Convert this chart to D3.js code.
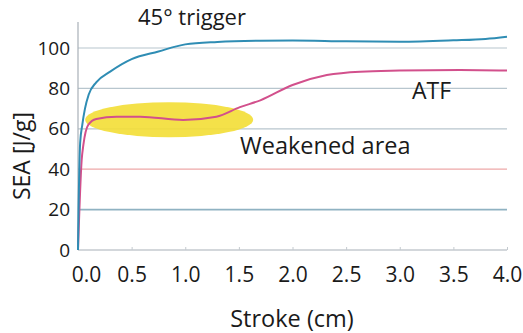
<!DOCTYPE html>
<html>
<head>
<meta charset="utf-8">
<script src="https://cdn.jsdelivr.net/npm/d3@7"></script>
<style>
  body { margin: 0; background: #fff; }
  text { font-family: "Open Sans", "Noto Sans", sans-serif; fill: #1a1a1a; }
</style>
</head>
<body>
<script>
//SEA vs stroke chart

var w = 523;
var h = 333;

// data
var xTicks = [0, 0.5, 1.0, 1.5, 2.0, 2.5, 3.0, 3.5, 4.0];
var yTicks = [0, 20, 40, 60, 80, 100];

var triggerStroke = [0, 0.005, 0.012, 0.02, 0.04, 0.065, 0.1, 0.17, 0.3, 0.5, 0.75, 1.0, 1.3, 1.7, 2.0, 2.5, 3.0, 3.5, 3.8, 4.0];
var triggerSEA    = [0, 20, 40, 53, 62, 70, 77, 83, 88.3, 94.5, 98.3, 101.8, 103, 103.6, 103.7, 103.3, 103.1, 103.8, 104.5, 105.6];

var atfStroke = [0, 0.034, 0.05, 0.096, 0.17, 0.36, 0.58, 0.98, 1.29, 1.51, 1.7, 2.0, 2.32, 2.63, 3.0, 3.56, 4.0];
var atfSEA    = [0, 44.5, 52, 62, 64.9, 66, 66, 64.4, 66, 70.7, 74.1, 81.7, 86.6, 88.3, 88.8, 89.1, 88.8];

var x = d3.scaleLinear().domain([0, 4]).range([78, 507]);
var y = d3.scaleLinear().domain([0, 100]).range([250, 48]);

var svg = d3.select("body")
    .append("svg")
    .attr("width", w)
    .attr("height", h);

// gridlines
var gridColor = {0: "#a8b0b8", 20: "#8fb2c2", 40: "#eea8a8", 60: "#b8c6ce", 80: "#b8c6ce", 100: "#b8c6ce"};
svg.selectAll(".grid")
    .data(yTicks)
    .enter()
    .append("line")
    .attr("class", "grid")
    .attr("x1", x(0))
    .attr("x2", x(4))
    .attr("y1", function(d) { return y(d) })
    .attr("y2", function(d) { return y(d) })
    .attr("stroke", function(d) { return gridColor[d] })
    .attr("stroke-width", function(d) { return d == 20 ? 1.6 : 1.2 });

// left axis line
svg.append("line")
    .attr("x1", x(0)).attr("x2", x(0))
    .attr("y1", 22).attr("y2", y(0))
    .attr("stroke", "#a8b0b8")
    .attr("stroke-width", 1.2);

// y axis labels
var yAxis = d3.axisLeft(y).tickValues(yTicks).tickSize(0).tickPadding(8);
svg.append("g")
    .attr("transform", "translate(" + x(0) + ",0)")
    .call(yAxis)
    .call(function(g) { g.select(".domain").remove() })
    .selectAll("text")
    .style("font-size", "19px")
    .attr("fill", "#1a1a1a");

// x axis labels, small ticks pointing up
var xAxis = d3.axisBottom(x).tickValues(xTicks).tickSize(-3).tickPadding(17)
    .tickFormat(d3.format(".1f"));
var xg = svg.append("g")
    .attr("transform", "translate(0," + y(0) + ")")
    .call(xAxis);
xg.select(".domain").remove();
xg.selectAll("line").attr("stroke", "#c4cacf");
xg.selectAll("text")
    .style("font-size", "21px")
    .attr("fill", "#1a2a3a")
    .attr("dx", function(d) { return d == 0 ? 8 : 0 });

// weakened area highlight
svg.append("ellipse")
    .attr("cx", x(0.85))
    .attr("cy", y(64.5))
    .attr("rx", 84)
    .attr("ry", 17.5)
    .attr("fill", "#f3de35")
    .attr("opacity", 0.9);

var line = d3.line()
    .x(function(d) { return x(d[0]) })
    .y(function(d) { return y(d[1]) })
    .curve(d3.curveMonotoneX);

svg.append("path")
    .datum(d3.zip(atfStroke, atfSEA))
    .attr("d", line)
    .attr("fill", "none")
    .attr("stroke", "#d2508c")
    .attr("stroke-width", 2);

svg.append("path")
    .datum(d3.zip(triggerStroke, triggerSEA))
    .attr("d", line)
    .attr("fill", "none")
    .attr("stroke", "#2f8db4")
    .attr("stroke-width", 2);

// annotations
svg.append("text")
    .attr("x", 138).attr("y", 25)
    .style("font-size", "22px")
    .text("45° trigger");

svg.append("text")
    .attr("x", 412).attr("y", 99)
    .style("font-size", "23px")
    .text("ATF");

svg.append("text")
    .attr("x", 240).attr("y", 154)
    .style("font-size", "23.5px")
    .text("Weakened area");

// axis titles
svg.append("text")
    .attr("transform", "translate(30,156) rotate(-90)")
    .attr("text-anchor", "middle")
    .style("font-size", "23px")
    .text("SEA [J/g]");

svg.append("text")
    .attr("x", 292).attr("y", 327)
    .attr("text-anchor", "middle")
    .style("font-size", "23.5px")
    .text("Stroke (cm)");
</script>
</body>
</html>
